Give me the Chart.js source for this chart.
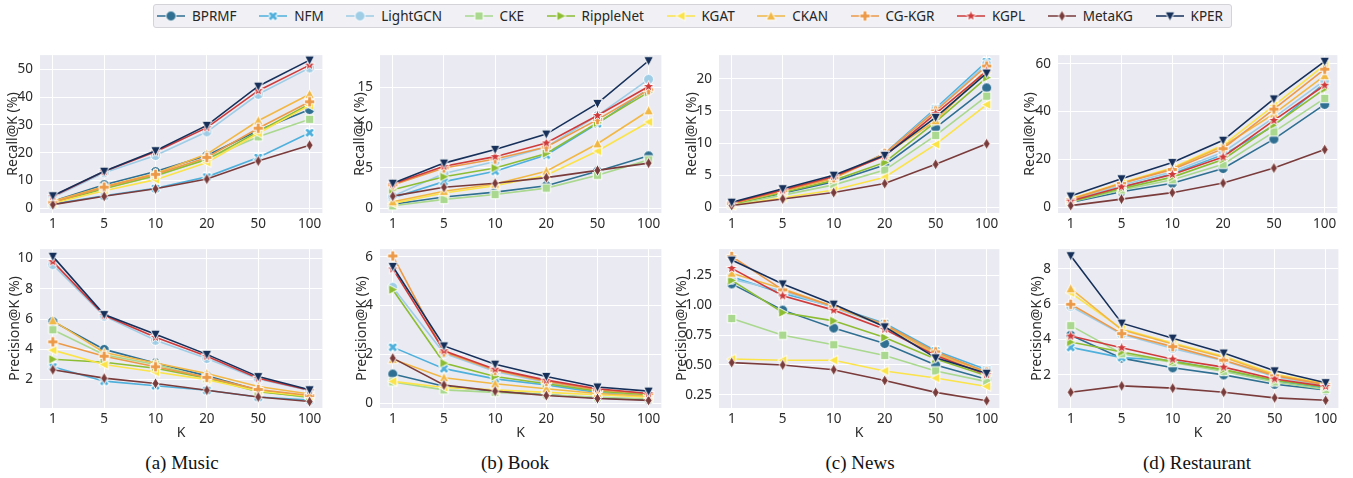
<!DOCTYPE html>
<html>
<head>
<meta charset="utf-8">
<script src="https://cdn.jsdelivr.net/npm/chart.js@4.4.0/dist/chart.umd.min.js"></script>
<style>
body { margin: 0; background: #fff; width: 1353px; height: 478px; position: relative; overflow: hidden; font-family: "Noto Sans", sans-serif; }
canvas.panel { position: absolute; }
.cap { position: absolute; top: 453px; line-height: 20px; font-family: "Liberation Serif", "Times New Roman", serif; font-size: 19px; color: #111; transform: translateX(-50%); white-space: nowrap; }
#legend { position: absolute; left: 153px; top: 4px; width: 1079px; height: 24px; box-sizing: border-box; border: 1px solid #d4d4d8; border-radius: 3px; background: #f0f0f5; display: flex; align-items: center; justify-content: space-between; padding: 0 8px 0 3px; font-size: 13.5px; color: #262626; }
.item { display: flex; align-items: center; }
.item canvas { margin-right: 7px; }
</style>
</head>
<body>
<div id="legend"></div>
<div class="cap" style="left:182px">(a) Music</div>
<div class="cap" style="left:515px">(b) Book</div>
<div class="cap" style="left:860px">(c) News</div>
<div class="cap" style="left:1197px">(d) Restaurant</div>
<script>
// K values on the x axis
const ks = ["1", "5", "10", "20", "50", "100"];

const models = ["BPRMF", "NFM", "LightGCN", "CKE", "RippleNet", "KGAT", "CKAN", "CG-KGR", "KGPL", "MetaKG", "KPER"];
const colors = ["#2f6f91", "#4fb0dc", "#9fcde6", "#a9d88e", "#8dbd33", "#fbe34a", "#f2b846", "#ec9a48", "#cf3b3b", "#7a3b3b", "#16305a"];
const markers = ["o", "X", "o", "s", ">", "<", "^", "P", "*", "d", "v"];

// one row per model, in the order of `models`
const musicRecall = [
    [2.5, 8.5, 13.2, 19.0, 28.0, 35.5],
    [1.5, 4.5, 7.2, 11.3, 18.3, 27.2],
    [4.0, 12.8, 19.0, 27.5, 41.0, 50.5],
    [2.2, 7.3, 11.5, 17.8, 25.7, 32.0],
    [2.0, 7.0, 11.8, 17.5, 27.5, 37.5],
    [1.8, 6.3, 10.3, 16.5, 27.0, 37.0],
    [2.5, 7.8, 12.5, 19.5, 31.5, 41.0],
    [2.2, 7.6, 12.2, 18.3, 28.8, 38.3],
    [4.3, 13.2, 20.3, 29.0, 42.3, 51.5],
    [1.3, 4.3, 7.0, 10.5, 17.0, 22.7],
    [4.5, 13.3, 20.7, 29.8, 43.9, 53.3]
];
const musicPrec = [
    [5.85, 4.0, 3.1, 2.25, 1.3, 0.85],
    [2.85, 1.9, 1.6, 1.3, 0.85, 0.65],
    [9.6, 6.2, 4.6, 3.4, 2.05, 1.28],
    [5.3, 3.65, 3.0, 2.1, 1.25, 0.8],
    [3.35, 3.15, 2.75, 2.1, 1.2, 0.85],
    [3.95, 3.0, 2.5, 2.0, 1.25, 0.9],
    [5.9, 3.8, 3.1, 2.4, 1.55, 1.05],
    [4.5, 3.55, 2.85, 2.15, 1.35, 0.95],
    [9.8, 6.25, 4.8, 3.55, 2.1, 1.3],
    [2.65, 2.1, 1.75, 1.3, 0.85, 0.55],
    [10.15, 6.3, 5.0, 3.67, 2.2, 1.33]
];
const bookRecall = [
    [0.5, 1.4, 2.0, 2.8, 4.6, 6.5],
    [1.3, 3.3, 4.6, 6.6, 10.5, 14.8],
    [1.5, 4.3, 5.8, 7.6, 11.5, 16.0],
    [0.3, 1.1, 1.7, 2.5, 4.1, 6.0],
    [2.3, 3.9, 5.0, 6.8, 10.6, 14.4],
    [0.6, 1.9, 2.8, 4.1, 7.1, 10.7],
    [0.8, 2.1, 3.0, 4.6, 8.0, 12.1],
    [2.9, 5.0, 6.1, 7.6, 11.0, 14.7],
    [3.0, 5.2, 6.4, 8.1, 11.5, 15.1],
    [1.5, 2.6, 3.1, 3.8, 4.7, 5.6],
    [3.1, 5.6, 7.3, 9.2, 13.0, 18.3]
];
const bookPrec = [
    [1.2, 0.7, 0.5, 0.35, 0.22, 0.15],
    [2.3, 1.42, 1.0, 0.75, 0.45, 0.3],
    [4.75, 2.05, 1.3, 0.85, 0.5, 0.35],
    [0.88, 0.55, 0.45, 0.35, 0.25, 0.18],
    [4.65, 1.65, 1.1, 0.8, 0.5, 0.35],
    [0.9, 0.65, 0.55, 0.45, 0.35, 0.25],
    [1.8, 1.05, 0.8, 0.6, 0.4, 0.3],
    [6.03, 2.1, 1.35, 0.9, 0.55, 0.4],
    [5.5, 2.15, 1.4, 0.95, 0.6, 0.4],
    [1.85, 0.75, 0.5, 0.32, 0.2, 0.12],
    [5.6, 2.35, 1.6, 1.1, 0.67, 0.5]
];
const newsRecall = [
    [0.5, 2.2, 4.0, 6.6, 12.4, 18.6],
    [0.6, 2.6, 4.6, 8.4, 15.4, 22.7],
    [0.6, 2.6, 4.6, 8.3, 15.2, 22.3],
    [0.4, 1.9, 3.5, 5.8, 11.2, 17.3],
    [0.5, 2.3, 4.2, 7.0, 13.3, 20.2],
    [0.3, 1.5, 2.7, 4.7, 9.8, 16.0],
    [0.6, 2.5, 4.5, 8.2, 13.5, 21.5],
    [0.6, 2.6, 4.6, 8.4, 15.0, 22.0],
    [0.7, 2.7, 4.8, 8.0, 14.6, 21.2],
    [0.3, 1.3, 2.3, 3.7, 6.7, 9.9],
    [0.8, 2.9, 5.0, 8.1, 14.0, 20.9]
];
const newsPrec = [
    [1.18, 0.96, 0.81, 0.68, 0.50, 0.38],
    [1.24, 1.10, 0.99, 0.85, 0.62, 0.46],
    [1.22, 1.12, 0.98, 0.83, 0.60, 0.45],
    [0.89, 0.75, 0.67, 0.58, 0.45, 0.36],
    [1.21, 0.94, 0.87, 0.73, 0.55, 0.41],
    [0.55, 0.54, 0.54, 0.45, 0.39, 0.32],
    [1.27, 1.14, 0.99, 0.83, 0.59, 0.44],
    [1.41, 1.13, 0.99, 0.84, 0.61, 0.44],
    [1.31, 1.08, 0.96, 0.80, 0.58, 0.42],
    [0.52, 0.50, 0.46, 0.37, 0.27, 0.20],
    [1.38, 1.18, 1.01, 0.82, 0.56, 0.43]
];
const restRecall = [
    [2.0, 6.5, 10.0, 16.2, 28.5, 43.0],
    [2.5, 8.2, 14.0, 22.0, 34.0, 52.0],
    [2.8, 9.2, 14.8, 23.0, 37.5, 53.0],
    [2.2, 7.2, 11.5, 18.0, 31.5, 45.5],
    [2.3, 7.8, 12.6, 20.0, 34.5, 49.5],
    [3.5, 10.2, 16.5, 26.0, 42.5, 59.5],
    [3.3, 9.9, 16.2, 25.5, 39.0, 55.0],
    [3.2, 10.0, 15.8, 24.5, 41.0, 57.7],
    [2.6, 8.5, 13.7, 21.0, 36.3, 51.0],
    [0.7, 3.4, 6.1, 10.1, 16.4, 24.1],
    [4.7, 11.9, 18.7, 28.0, 45.3, 61.0]
];
const restPrec = [
    [4.25, 2.95, 2.4, 2.0, 1.47, 1.15],
    [3.56, 2.98, 2.8, 2.25, 1.65, 1.25],
    [5.89, 4.3, 3.5, 2.8, 1.9, 1.4],
    [4.79, 3.2, 2.7, 2.2, 1.6, 1.17],
    [3.86, 3.3, 2.75, 2.3, 1.7, 1.3],
    [6.65, 4.6, 3.8, 3.05, 2.05, 1.5],
    [6.88, 4.55, 3.75, 3.0, 2.0, 1.45],
    [6.0, 4.34, 3.6, 2.83, 1.95, 1.45],
    [4.2, 3.54, 2.89, 2.44, 1.77, 1.35],
    [1.02, 1.38, 1.25, 1.02, 0.7, 0.56],
    [8.75, 4.93, 4.08, 3.24, 2.23, 1.56]
];

// y tick labels per panel
const musicRecallTicks = ["0", "10", "20", "30", "40", "50"];
const musicPrecTicks = ["2", "4", "6", "8", "10"];
const bookRecallTicks = ["0", "5", "10", "15"];
const bookPrecTicks = ["0", "2", "4", "6"];
const newsRecallTicks = ["0", "5", "10", "15", "20"];
const newsPrecTicks = ["0.25", "0.50", "0.75", "1.00", "1.25"];
const restRecallTicks = ["0", "20", "40", "60"];
const restPrecTicks = ["2", "4", "6", "8"];

// draw a seaborn-like filled marker with white edge
function makeMarker(shape, color, r) {
    const size = Math.ceil(r * 2 + 5);
    const c = document.createElement("canvas");
    c.width = c.height = size;
    const g = c.getContext("2d");
    g.translate(size / 2, size / 2);
    g.beginPath();
    if (shape === "o") {
        g.arc(0, 0, r, 0, Math.PI * 2);
    } else if (shape === "s") {
        g.rect(-r * 0.85, -r * 0.85, r * 1.7, r * 1.7);
    } else if ("^>v<".includes(shape)) {
        g.rotate("^>v<".indexOf(shape) * Math.PI / 2);
        g.moveTo(0, -r * 1.05);
        g.lineTo(r * 1.0, r * 0.85);
        g.lineTo(-r * 1.0, r * 0.85);
    } else if (shape === "d") {
        g.moveTo(0, -r * 1.15);
        g.lineTo(r * 0.7, 0);
        g.lineTo(0, r * 1.15);
        g.lineTo(-r * 0.7, 0);
    } else if (shape === "P" || shape === "X") {
        if (shape === "X") g.rotate(Math.PI / 4);
        const a = r * 1.05, w = r * 0.38;
        g.moveTo(-w, -a); g.lineTo(w, -a); g.lineTo(w, -w); g.lineTo(a, -w);
        g.lineTo(a, w); g.lineTo(w, w); g.lineTo(w, a); g.lineTo(-w, a);
        g.lineTo(-w, w); g.lineTo(-a, w); g.lineTo(-a, -w); g.lineTo(-w, -w);
    } else if (shape === "*") {
        for (let i = 0; i < 10; i++) {
            const rr = i % 2 ? r * 0.5 : r * 1.2;
            const ang = -Math.PI / 2 + i * Math.PI / 5;
            g.lineTo(Math.cos(ang) * rr, Math.sin(ang) * rr);
        }
    }
    g.closePath();
    g.fillStyle = color;
    g.fill();
    g.lineWidth = 1;
    g.strokeStyle = "#ffffff";
    g.stroke();
    return c;
}

const pointImgs = models.map((m, i) => makeMarker(markers[i], colors[i], 5));

// legend
let legend = document.getElementById("legend");
models.forEach(function(name, i) {
    let item = document.createElement("div");
    item.className = "item";
    let c = document.createElement("canvas");
    c.width = 28; c.height = 16;
    let g = c.getContext("2d");
    g.strokeStyle = colors[i];
    g.lineWidth = 1.5;
    g.beginPath(); g.moveTo(0, 8); g.lineTo(28, 8); g.stroke();
    g.drawImage(pointImgs[i], 14 - pointImgs[i].width / 2, 8 - pointImgs[i].height / 2);
    item.appendChild(c);
    let t = document.createElement("span");
    t.textContent = name;
    item.appendChild(t);
    legend.appendChild(item);
});

const bgPlugin = {
    id: "plotBg",
    beforeDraw(chart) {
        const a = chart.chartArea;
        chart.ctx.save();
        chart.ctx.fillStyle = "#eaeaf2";
        chart.ctx.fillRect(a.left, a.top, a.right - a.left, a.bottom - a.top);
        chart.ctx.restore();
    }
};

// panel boxes: plot area edges and y-title centre
const panels = [
    { data: musicRecall, ticks: musicRecallTicks, label: "Recall@K (%)", min: -1.7, max: 55.1, l: 40, r: 323, titleX: 13, row: 0 },
    { data: bookRecall, ticks: bookRecallTicks, label: "Recall@K (%)", min: -0.59, max: 19.0, l: 380, r: 662, titleX: 360, row: 0 },
    { data: newsRecall, ticks: newsRecallTicks, label: "Recall@K (%)", min: -0.88, max: 23.7, l: 719, r: 1000, titleX: 692, row: 0 },
    { data: restRecall, ticks: restRecallTicks, label: "Recall@K (%)", min: -2.4, max: 63.6, l: 1058, r: 1338, titleX: 1030, row: 0 },
    { data: musicPrec, ticks: musicPrecTicks, label: "Precision@K (%)", min: 0.125, max: 10.63, l: 40, r: 323, titleX: 15, row: 1 },
    { data: bookPrec, ticks: bookPrecTicks, label: "Precision@K (%)", min: -0.19, max: 6.31, l: 380, r: 662, titleX: 362, row: 1 },
    { data: newsPrec, ticks: newsPrecTicks, label: "Precision@K (%)", min: 0.139, max: 1.472, l: 719, r: 1000, titleX: 682, row: 1 },
    { data: restPrec, ticks: restPrecTicks, label: "Precision@K (%)", min: 0.125, max: 9.125, l: 1058, r: 1339, titleX: 1037, row: 1 }
];

const rows = [
    { top: 46, bottom: 213, xh: 22, title: false },
    { top: 240, bottom: 408, xh: 37, title: true }
];

const tickColor = "#2b2b2b";

panels.forEach(function(p) {
    const row = rows[p.row];
    const left = p.titleX - 12;
    const top = row.top - 6;
    const cv = document.createElement("canvas");
    cv.className = "panel";
    cv.width = p.r + 6 - left;
    cv.height = row.bottom + row.xh - top;
    cv.style.left = left + "px";
    cv.style.top = top + "px";
    document.body.appendChild(cv);

    const datasets = models.map((name, i) => ({
        label: name,
        data: p.data[i].map((v, j) => ({ x: j, y: v })),
        borderColor: colors[i],
        backgroundColor: colors[i],
        borderWidth: 1.6,
        pointStyle: pointImgs[i],
        pointRadius: 5,
        tension: 0,
        clip: false,
        order: models.length - i
    }));

    new Chart(cv.getContext("2d"), {
        type: "line",
        data: { datasets: datasets },
        plugins: [bgPlugin],
        options: {
            responsive: false,
            animation: false,
            layout: { padding: { top: 6, right: 6, left: 0, bottom: 0 } },
            plugins: { legend: { display: false }, tooltip: { enabled: false } },
            scales: {
                x: {
                    type: "linear",
                    min: -0.25,
                    max: 5.25,
                    afterBuildTicks: s => { s.ticks = ks.map((k, j) => ({ value: j })); },
                    afterFit: s => { s.height = row.xh; },
                    grid: { color: "#ffffff", lineWidth: 1, drawTicks: false },
                    border: { display: false },
                    ticks: {
                        autoSkip: false, maxRotation: 0, padding: 3, color: tickColor,
                        font: { family: "Noto Sans", size: 13.5 },
                        callback: v => ks[v]
                    },
                    title: {
                        display: row.title, text: "K", color: tickColor,
                        font: { family: "Noto Sans", size: 14 },
                        padding: { top: 0, bottom: 4 }
                    }
                },
                y: {
                    min: p.min,
                    max: p.max,
                    afterBuildTicks: s => { s.ticks = p.ticks.map(t => ({ value: parseFloat(t) })); },
                    afterFit: s => { s.width = p.l - left; },
                    grid: { color: "#ffffff", lineWidth: 1, drawTicks: false },
                    border: { display: false },
                    ticks: {
                        padding: 7, color: tickColor,
                        font: { family: "Noto Sans", size: 13.5 },
                        callback: v => p.ticks.find(t => parseFloat(t) === v)
                    },
                    title: {
                        display: true, text: p.label, color: tickColor,
                        font: { family: "Noto Sans", size: 14 },
                        padding: { top: 4, bottom: 0 }
                    }
                }
            }
        }
    });
});
</script>
</body>
</html>
